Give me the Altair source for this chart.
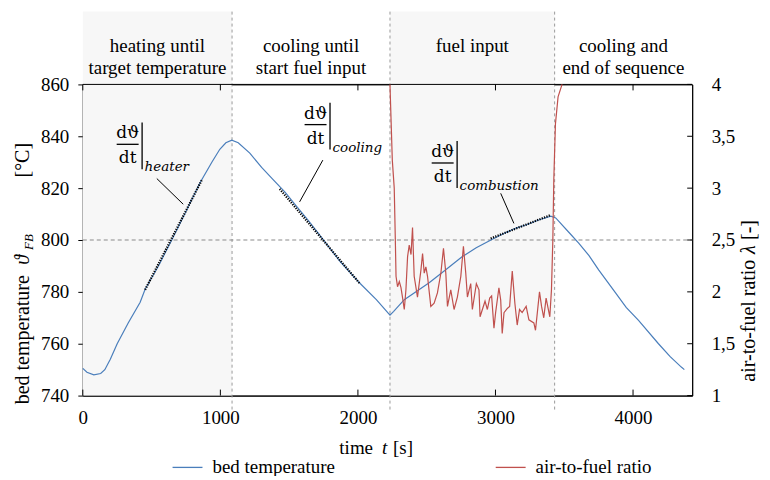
import altair as alt
import pandas as pd

# ---------------- data ----------------
temp_time = [0, 30, 80, 130, 160, 200, 250, 330, 417, 453, 550, 656, 750, 851, 938, 996, 1040, 1083,
             1130, 1214, 1300, 1380, 1470, 1554, 1640, 1721, 1866, 2011, 2134, 2233, 2260, 2337, 2518,
             2650, 2757, 2860, 2967, 3060, 3149, 3230, 3315, 3402, 3438, 3533, 3605, 3680, 3750, 3873,
             3950, 4040, 4185, 4270, 4351, 4373]
temp_value = [750.5, 749, 748, 748.5, 750, 754, 760, 768, 776, 781, 790, 801, 811, 822, 830, 835, 837.5,
              838.5, 837.5, 833.5, 828, 823.5, 818.5, 813, 807.5, 802, 792, 783.5, 777, 771, 772.5, 777,
              783.5, 789, 793.5, 797, 800, 802.5, 804.6, 806, 807.7, 809.2, 808.5, 803, 798.8, 794, 788.5,
              779.6, 774, 769, 760, 755, 751, 750]

lam_time = [2233, 2250, 2264, 2272, 2277, 2288, 2301, 2313, 2325, 2337, 2349, 2361, 2373, 2386, 2397,
            2409, 2433, 2458, 2470, 2482, 2494, 2506, 2530, 2554, 2578, 2603, 2622, 2639, 2651, 2675,
            2699, 2723, 2748, 2767, 2784, 2796, 2820, 2832, 2861, 2880, 2888, 2924, 2941, 2958, 2972,
            2989, 3001, 3025, 3038, 3049, 3062, 3086, 3103, 3122, 3141, 3158, 3175, 3194, 3223, 3243,
            3279, 3291, 3320, 3335, 3351, 3368, 3395, 3407, 3417, 3424, 3436, 3455, 3484]
lam_value = [4.0, 3.27, 3.0, 2.5, 2.15, 2.05, 2.10, 2.04, 1.94, 1.83, 2.02, 2.34, 2.45, 2.36, 2.62,
             2.15, 1.95, 2.21, 2.37, 2.18, 2.24, 2.15, 1.86, 1.89, 1.99, 2.18, 2.42, 2.18, 1.86, 2.02,
             1.83, 1.95, 2.15, 2.44, 2.18, 1.95, 2.08, 1.83, 2.08, 2.02, 1.76, 1.91, 1.83, 1.94, 1.96,
             1.65, 1.80, 2.04, 1.92, 1.60, 1.80, 1.84, 1.86, 2.20, 1.89, 1.68, 1.83, 1.80, 1.86, 1.73,
             1.70, 1.63, 2.0, 1.86, 1.75, 1.94, 1.76, 2.02, 2.5, 3.08, 3.62, 3.88, 4.0]

tan_phase = ["heater", "heater", "cooling", "cooling", "combustion", "combustion"]
tan_time = [453, 864, 1431, 2011, 2965, 3400]
tan_value = [780.8, 823.0, 819.7, 783.4, 800.6, 809.6]

lead_time = [538, 730, 1745, 1576, 3038, 3134]
lead_value = [823.7, 813.8, 830.8, 814.7, 818.0, 806.4]

ann_sub = ["heater", "cooling", "combustion"]
ann_time = [326, 1692, 2616]
ann_value = [836.9, 844.5, 829.7]

phase_label = ["heating until\ntarget temperature", "cooling until\nstart fuel input",
               "fuel input", "cooling and\nend of sequence"]
phase_start = [0, 1085, 2233, 3430]
phase_end = [1085, 2233, 3430, 4430]
phase_shaded = [1, 0, 1, 0]

x_ticks = [0, 1000, 2000, 3000, 4000]
temp_ticks = [740, 760, 780, 800, 820, 840, 860]
lam_ticks = [1, 1.5, 2, 2.5, 3, 3.5, 4]
ref_temp = 800
series = ["bed temperature", "air-to-fuel ratio"]

# ---------------- layout ----------------
W, H = 611, 312
X_MAX = 4430
T_MIN, T_MAX = 740, 860
L_MIN, L_MAX = 1, 4
PX_S = W / X_MAX
PX_T = H / (T_MAX - T_MIN)


def dx(px):
    return px / PX_S


def dT(px):
    return px / PX_T


SERIF = "Liberation Serif"
MATH = "DejaVu Serif"
BLUE = "#4a7ebb"
RED = "#c0504d"

xs = alt.Scale(domain=[0, X_MAX], nice=False, zero=False)
ys = alt.Scale(domain=[T_MIN, T_MAX], nice=False, zero=False)
ls = alt.Scale(domain=[L_MIN, L_MAX], nice=False, zero=False)

x_axis = alt.Axis(values=x_ticks, ticks=False, labelPadding=13, title=None, grid=False,
                  labelFlush=False, domainColor="black", format="d")
y_axis = alt.Axis(values=temp_ticks, orient="left", tickSize=5, labelPadding=9, title=None,
                  grid=False, domainColor="black", tickColor="black", format="d")
l_axis = alt.Axis(values=lam_ticks, orient="right", ticks=False, labelPadding=19, grid=False,
                  domainColor="black", title=None,
                  labelExpr="replace(toString(datum.value), '.', ',')")

color = alt.Color("series:N", scale=alt.Scale(domain=series, range=[BLUE, RED]),
                  legend=alt.Legend(orient="none", legendX=89, legendY=368, direction="horizontal",
                                    columns=2, columnPadding=158, symbolType="stroke",
                                    symbolSize=900, symbolStrokeWidth=1.3, labelFont=SERIF,
                                    labelFontSize=19, labelColor="black", labelOffset=9,
                                    title=None, padding=0))


def X(f="t"):
    return alt.X(f"{f}:Q", scale=xs, axis=x_axis)


def Y(f="v"):
    return alt.Y(f"{f}:Q", scale=ys, axis=y_axis)


# ---------------- tables ----------------
temp_df = pd.DataFrame({"t": temp_time, "v": temp_value, "series": series[0]})
lam_df = pd.DataFrame({"t": lam_time, "lam": lam_value, "series": series[1]})
tan_df = pd.DataFrame({"t": tan_time, "v": tan_value, "g": tan_phase})
lead_df = pd.DataFrame({"t": lead_time, "v": lead_value, "g": tan_phase})
phase_df = pd.DataFrame({"label": phase_label, "start": phase_start, "end": phase_end,
                         "shaded": phase_shaded})
phase_df["mid"] = (phase_df["start"] + phase_df["end"]) / 2
shade_df = phase_df[phase_df["shaded"] == 1].copy()
shade_df["v"] = T_MIN
shade_df["v2"] = T_MAX + dT(73)
bound_df = pd.DataFrame({"t": phase_start[1:]})
bound_df["v"] = T_MIN - dT(14)
bound_df["v2"] = T_MAX + dT(73)
ref_df = pd.DataFrame({"t": [0], "t2": [X_MAX], "v": [ref_temp]})
top_df = pd.DataFrame({"t": [0], "t2": [X_MAX], "v": [T_MAX]})
bt_df = pd.DataFrame({"t": x_ticks, "v": T_MIN, "v2": T_MIN + dT(6)})
tt_df = pd.DataFrame({"t": x_ticks, "v": T_MAX, "v2": T_MAX - dT(6)})
rt_df = pd.DataFrame({"t": X_MAX - dx(5), "t2": X_MAX, "lam": lam_ticks})

ann_df = pd.DataFrame({"sub": ann_sub, "t": ann_time, "v": ann_value})
ann_df["bl"] = ann_df["t"] - dx(11)
ann_df["br"] = ann_df["t"] + dx(11)
ann_df["vx"] = ann_df["t"] + dx(14.5)
ann_df["vtop"] = ann_df["v"] + dT(22)
ann_df["vbot"] = ann_df["v"] - dT(25)
ann_df["sx"] = ann_df["t"] + dx(17)
ann_df["num"] = "dϑ"
ann_df["den"] = "dt"

one = pd.DataFrame({"a": [0]})

# ---------------- temperature layers ----------------
shade = alt.Chart(shade_df).mark_rect(color="#f7f7f7").encode(
    x=X("start"), x2="end", y=Y("v"), y2="v2")
bounds = alt.Chart(bound_df).mark_rule(color="#9a9a9a", strokeDash=[3, 3], strokeWidth=1).encode(
    x=X("t"), y=Y("v"), y2="v2")
ref = alt.Chart(ref_df).mark_rule(color="#8a8a8a", strokeDash=[4, 3], strokeWidth=1).encode(
    x=X("t"), x2="t2", y=Y("v"))
top = alt.Chart(top_df).mark_rule(color="black", strokeWidth=1).encode(
    x=X("t"), x2="t2", y=Y("v"))
bticks = alt.Chart(bt_df).mark_rule(color="black", strokeWidth=1).encode(
    x=X("t"), y=Y("v"), y2="v2")
tticks = alt.Chart(tt_df).mark_rule(color="black", strokeWidth=1).encode(
    x=X("t"), y=Y("v"), y2="v2")
blue = alt.Chart(temp_df).mark_line(strokeWidth=1.2).encode(
    x=X("t"), y=Y("v"), color=color)
tangents = alt.Chart(tan_df).mark_line(color="black", strokeWidth=2.2, strokeDash=[1.2, 1.3]).encode(
    x=X("t"), y=Y("v"), detail="g:N")
leads = alt.Chart(lead_df).mark_line(color="black", strokeWidth=1).encode(
    x=X("t"), y=Y("v"), detail="g:N")
fbar = alt.Chart(ann_df).mark_rule(color="black", strokeWidth=1.3).encode(
    x=X("bl"), x2="br", y=Y("v"))
vbar = alt.Chart(ann_df).mark_rule(color="black", strokeWidth=1.3).encode(
    x=X("vx"), y=Y("vtop"), y2="vbot")
num = alt.Chart(ann_df).mark_text(font=MATH, fontSize=17, align="center", baseline="alphabetic",
                                  dy=-6, color="black").encode(x=X("t"), y=Y("v"), text="num:N")
den = alt.Chart(ann_df).mark_text(font=MATH, fontSize=17, align="center", baseline="alphabetic",
                                  dy=19, color="black").encode(x=X("t"), y=Y("v"), text="den:N")
sub = alt.Chart(ann_df).mark_text(font=MATH, fontSize=13.5, fontStyle="italic", align="left",
                                  baseline="alphabetic", dy=27, color="black").encode(
    x=X("sx"), y=Y("v"), text="sub:N")
phase_text = alt.Chart(phase_df).mark_text(font=SERIF, fontSize=19, align="center", baseline="middle",
                                           lineBreak="\n", lineHeight=22, color="black").encode(
    x=X("mid"), y=alt.value(-38.5), text="label:N")


def label(text, x, y, size=20, style="normal", angle=0, align="center"):
    return alt.Chart(one).mark_text(text=text, font=SERIF, fontSize=size, fontStyle=style,
                                    angle=angle, align=align, baseline="alphabetic",
                                    color="black").encode(x=alt.value(x), y=alt.value(y))


titles = [
    label("bed temperature", -54, 256, angle=270),
    label("ϑ", -54, 176, style="italic", angle=270),
    label("FB", -50, 158, size=13, style="italic", angle=270),
    label("[°C]", -54, 76, angle=270),
    label("time", 291, 371, size=19, align="right"),
    label("t", 302.5, 371, size=19, style="italic"),
    label("[s]", 311, 371, size=19, align="left"),
    label("air-to-fuel ratio", 674, 298, angle=270, align="left"),
    label("λ", 674, 170, style="italic", angle=270, align="left"),
    label("[-]", 674, 156, angle=270, align="left"),
]

temp_layer = alt.layer(shade, bounds, ref, top, bticks, tticks, blue, tangents, leads, fbar, vbar,
                       num, den, sub, phase_text, *titles)

# ---------------- lambda layers ----------------
red = alt.Chart(lam_df).mark_line(strokeWidth=1.2).encode(
    x=X("t"), y=alt.Y("lam:Q", scale=ls, axis=l_axis), color=color)
rticks = alt.Chart(rt_df).mark_rule(color="black", strokeWidth=1).encode(
    x=X("t"), x2="t2", y=alt.Y("lam:Q", scale=ls, axis=l_axis))
lam_layer = alt.layer(red, rticks)

chart = alt.layer(temp_layer, lam_layer).resolve_scale(y="independent").properties(
    width=W, height=H,
    autosize=alt.AutoSizeParams(type="none"),
    padding={"left": 75, "top": 76, "right": 70, "bottom": 80},
    background="white",
).configure_view(stroke="black", strokeWidth=1).configure_axis(
    labelFont=SERIF, labelFontSize=19, labelColor="black", domainColor="black", domainWidth=1,
)

chart.save("out.html", embed_options={"renderer": "svg", "actions": False})
